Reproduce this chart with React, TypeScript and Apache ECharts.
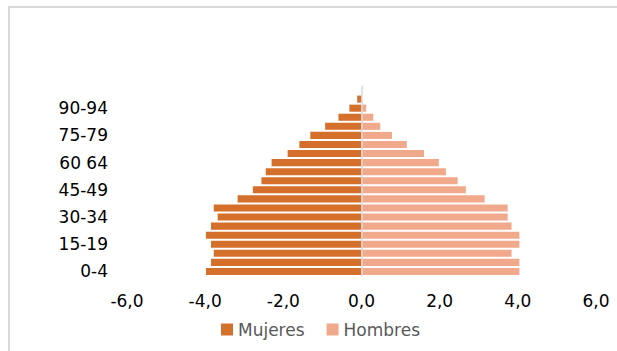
import React, { useEffect, useRef } from "react";
import * as echarts from "echarts";

const categories = [
  "0-4", "5-9", "10-14", "15-19", "20-24", "25-29", "30-34", "35-39",
  "40-44", "45-49", "50-54", "55-59", "60-64", "65-69", "70-74", "75-79",
  "80-84", "85-89", "90-94", "95-99", "100+",
];
const categoryLabels = [
  "0-4", "5-9", "10-14", "15-19", "20-24", "25-29", "30-34", "35-39",
  "40-44", "45-49", "50-54", "55-59", "60 64", "65-69", "70-74", "75-79",
  "80-84", "85-89", "90-94", "95-99", "100+",
];
const mujeres = [
  -3.98, -3.85, -3.78, -3.85, -3.98, -3.85, -3.68, -3.78, -3.17, -2.78,
  -2.56, -2.45, -2.3, -1.89, -1.59, -1.31, -0.93, -0.59, -0.31, -0.11, 0,
];
const hombres = [
  4.04, 4.04, 3.84, 4.04, 4.04, 3.84, 3.74, 3.74, 3.15, 2.67,
  2.46, 2.16, 1.98, 1.6, 1.16, 0.78, 0.48, 0.3, 0.12, 0, 0,
];
const xTicks = { min: -6, max: 6, interval: 2 };

const FONT = "DejaVu Sans";

export default function App() {
  const ref = useRef<HTMLDivElement>(null);
  useEffect(() => {
    if (!ref.current) return;
    const chart = echarts.init(ref.current, undefined, { renderer: "svg" });
    chart.setOption({
      animation: false,
      backgroundColor: "#ffffff",
      grid: { left: 127, right: 21, top: 85.5, bottom: 75, containLabel: false },
      legend: {
        left: 216,
        top: 316,
        itemWidth: 12,
        itemHeight: 12,
        itemGap: 22,
        icon: "rect",
        textStyle: { fontFamily: FONT, fontSize: 17, color: "#595959" },
        data: ["Mujeres", "Hombres"],
      },
      xAxis: {
        type: "value",
        min: xTicks.min,
        max: xTicks.max,
        interval: xTicks.interval,
        axisLine: { show: false },
        axisTick: { show: false },
        splitLine: { show: false },
        axisLabel: {
          margin: 16,
          fontFamily: FONT,
          fontSize: 17,
          color: "#000000",
          formatter: (v: number) => v.toFixed(1).replace(".", ","),
        },
      },
      yAxis: {
        type: "category",
        data: categories,
        axisLine: { show: false },
        axisTick: { show: false },
        splitLine: { show: false },
        axisLabel: {
          interval: 2,
          margin: 19,
          fontFamily: FONT,
          fontSize: 17,
          color: "#000000",
          formatter: (v: string) => categoryLabels[categories.indexOf(v)],
        },
      },
      series: [
        {
          name: "Mujeres",
          type: "bar",
          stack: "total",
          data: mujeres,
          barCategoryGap: "22%",
          itemStyle: { color: "#D4702C" },
          markLine: {
            silent: true,
            symbol: "none",
            label: { show: false },
            lineStyle: { color: "#d9d9d9", width: 1.5, type: "solid" },
            data: [{ xAxis: 0 }],
          },
        },
        {
          name: "Hombres",
          type: "bar",
          stack: "total",
          data: hombres,
          barCategoryGap: "22%",
          itemStyle: { color: "#F1A98B" },
        },
      ],
      graphic: [
        {
          type: "line",
          shape: { x1: 9, y1: 6, x2: 9, y2: 351 },
          style: { stroke: "#d9d9d9", lineWidth: 2 },
          silent: true,
        },
        {
          type: "line",
          shape: { x1: 8, y1: 7, x2: 617, y2: 7 },
          style: { stroke: "#d9d9d9", lineWidth: 2 },
          silent: true,
        },
      ],
    });
    return () => chart.dispose();
  }, []);
  return (
    <div
      ref={ref}
      style={{ position: "fixed", left: 0, top: 0, width: 617, height: 351 }}
    />
  );
}
